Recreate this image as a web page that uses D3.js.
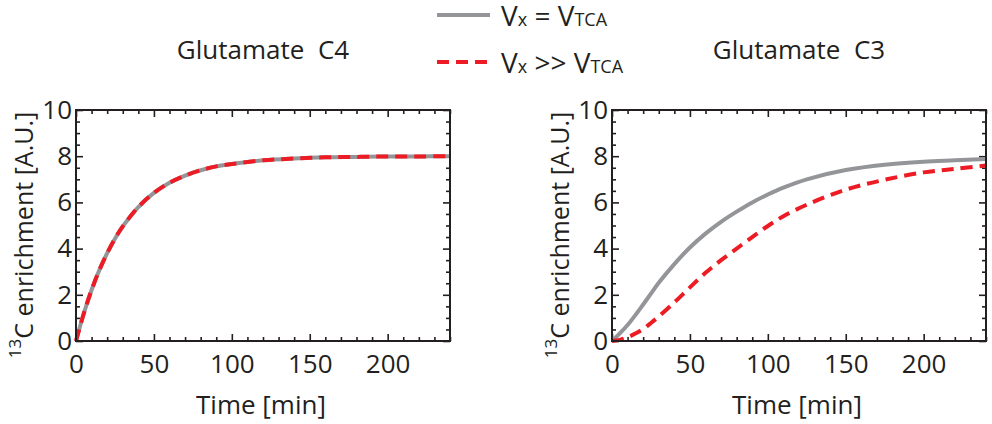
<!DOCTYPE html>
<html>
<head>
<meta charset="utf-8">
<script src="https://cdn.jsdelivr.net/npm/d3@7"></script>
<style>
  body { margin: 0; background: #fff; }
  svg { display: block; font-family: "Open Sans", sans-serif; }
  .tick text { font-size: 26px; fill: #231f20; }
  .tick line { stroke: #231f20; stroke-width: 1.6; }
</style>
</head>
<body>
<div id="chart"></div>
<script>
// values
var timeC4  = [0, 5, 10, 15, 20, 25, 30, 40, 50, 60, 70, 80, 90, 100, 120, 140, 160, 180, 200, 220, 240];
var c4Equal = [0, 1.19, 2.21, 3.07, 3.80, 4.43, 4.96, 5.80, 6.41, 6.85, 7.16, 7.39, 7.56, 7.66, 7.82, 7.90, 7.95, 7.97, 7.99, 7.99, 8.0];
var c4Fast  = [0, 1.19, 2.21, 3.07, 3.80, 4.43, 4.96, 5.80, 6.41, 6.85, 7.16, 7.39, 7.56, 7.66, 7.82, 7.90, 7.95, 7.97, 7.99, 7.99, 8.0];

var timeC3  = [0, 5, 10, 15, 20, 25, 30, 40, 50, 60, 70, 80, 90, 100, 110, 125, 150, 175, 200, 220, 240];
var c3Equal = [0, 0.33, 0.69, 1.12, 1.58, 2.05, 2.52, 3.33, 4.05, 4.65, 5.16, 5.6, 6.0, 6.34, 6.64, 7.0, 7.4, 7.63, 7.76, 7.82, 7.88];
var c3Fast  = [0, 0.05, 0.16, 0.32, 0.52, 0.78, 1.06, 1.67, 2.32, 2.95, 3.5, 4.0, 4.5, 4.98, 5.4, 5.9, 6.55, 6.98, 7.3, 7.45, 7.6];

var xTicks = [0, 50, 100, 150, 200];
var yTicks = [0, 2, 4, 6, 8, 10];
var panelTitles = ["Glutamate  C4", "Glutamate  C3"];

var width = 992,
    height = 424;

var grey = "#939598",
    red = "#ed1c24",
    ink = "#231f20";

var svg = d3.select("#chart").append("svg")
    .attr("width", width)
    .attr("height", height);

var panels = [
  { title: panelTitles[0], left: 76,  t: timeC4, equal: c4Equal, fast: c4Fast },
  { title: panelTitles[1], left: 612, t: timeC3, equal: c3Equal, fast: c3Fast }
];

var plotW = 374, plotTop = 110, plotBottom = 341;

var y = d3.scaleLinear().domain([0, 10]).range([plotBottom, plotTop]);

panels.forEach(function(p) {
  var x = d3.scaleLinear().domain([0, 240]).range([p.left, p.left + plotW]);
  var g = svg.append("g");

  var minorX = d3.range(0, 241, 10).filter(function(v) { return v % 50 != 0; });
  var minorY = d3.range(0, 10.01, 0.5).filter(function(v) { return v % 2 != 0; });

  // minor ticks, all four sides, pointing in
  g.append("g").attr("transform", "translate(0," + plotBottom + ")")
    .call(d3.axisBottom(x).tickValues(minorX).tickSize(-4).tickFormat(""));
  g.append("g").attr("transform", "translate(0," + plotTop + ")")
    .call(d3.axisTop(x).tickValues(minorX).tickSize(-4).tickFormat(""));
  g.append("g").attr("transform", "translate(" + p.left + ",0)")
    .call(d3.axisLeft(y).tickValues(minorY).tickSize(-4).tickFormat(""));
  g.append("g").attr("transform", "translate(" + (p.left + plotW) + ",0)")
    .call(d3.axisRight(y).tickValues(minorY).tickSize(-4).tickFormat(""));

  // major ticks
  g.append("g").attr("transform", "translate(0," + plotBottom + ")")
    .call(d3.axisBottom(x).tickValues(xTicks).tickSize(-7).tickPadding(14));
  g.append("g").attr("transform", "translate(0," + plotTop + ")")
    .call(d3.axisTop(x).tickValues(xTicks).tickSize(-7).tickFormat(""));
  g.append("g").attr("transform", "translate(" + p.left + ",0)")
    .call(d3.axisLeft(y).tickValues(yTicks).tickSize(-7).tickPadding(4));
  g.append("g").attr("transform", "translate(" + (p.left + plotW) + ",0)")
    .call(d3.axisRight(y).tickValues(yTicks).tickSize(-7).tickFormat(""));

  g.selectAll(".domain").remove();
  g.selectAll("g").attr("font-family", null).attr("font-size", null);

  var line = d3.line()
    .x(function(d, i) { return x(p.t[i]); })
    .y(function(d) { return y(d); })
    .curve(d3.curveCatmullRom.alpha(0.5));

  g.append("path")
    .attr("d", line(p.equal))
    .attr("fill", "none")
    .attr("stroke", grey)
    .attr("stroke-width", 4);

  g.append("path")
    .attr("d", line(p.fast))
    .attr("fill", "none")
    .attr("stroke", red)
    .attr("stroke-width", 4)
    .attr("stroke-dasharray", "12,7");

  g.append("rect")
    .attr("x", p.left)
    .attr("y", plotTop)
    .attr("width", plotW)
    .attr("height", plotBottom - plotTop)
    .attr("fill", "none")
    .attr("stroke", ink)
    .attr("stroke-width", 2);

  // titles
  g.append("text")
    .attr("x", p.left + plotW / 2)
    .attr("y", 59)
    .attr("text-anchor", "middle")
    .attr("font-size", 26)
    .attr("fill", ink)
    .style("white-space", "pre")
    .text(p.title);

  g.append("text")
    .attr("x", p.left + plotW / 2 - 2)
    .attr("y", 414)
    .attr("text-anchor", "middle")
    .attr("font-size", 26)
    .attr("fill", ink)
    .text("Time [min]");

  var yt = g.append("text")
    .attr("transform", "translate(" + (p.left - 43) + ",235) rotate(-90)")
    .attr("text-anchor", "middle")
    .attr("fill", ink);
  yt.append("tspan").attr("font-size", 17).attr("dy", -12).text("13");
  yt.append("tspan").attr("font-size", 25).attr("dy", 12).text("C enrichment [A.U.]");
});

// legend
var legend = svg.append("g");
var legendItems = [
  { color: grey, dash: null, rel: " = ", yy: 15 },
  { color: red, dash: "12,7", rel: " >> ", yy: 62 }
];
legendItems.forEach(function(d) {
  legend.append("line")
    .attr("x1", 437).attr("x2", 490)
    .attr("y1", d.yy).attr("y2", d.yy)
    .attr("stroke", d.color)
    .attr("stroke-width", 4)
    .attr("stroke-dasharray", d.dash);
  var t = legend.append("text")
    .attr("x", 501)
    .attr("y", d.yy + 11)
    .attr("font-size", 28)
    .attr("fill", ink)
    .style("white-space", "pre");
  t.append("tspan").text("V");
  t.append("tspan").attr("font-size", 18).text("x");
  t.append("tspan").text(d.rel + "V");
  t.append("tspan").attr("font-size", 18).text("TCA");
});
</script>
</body>
</html>
